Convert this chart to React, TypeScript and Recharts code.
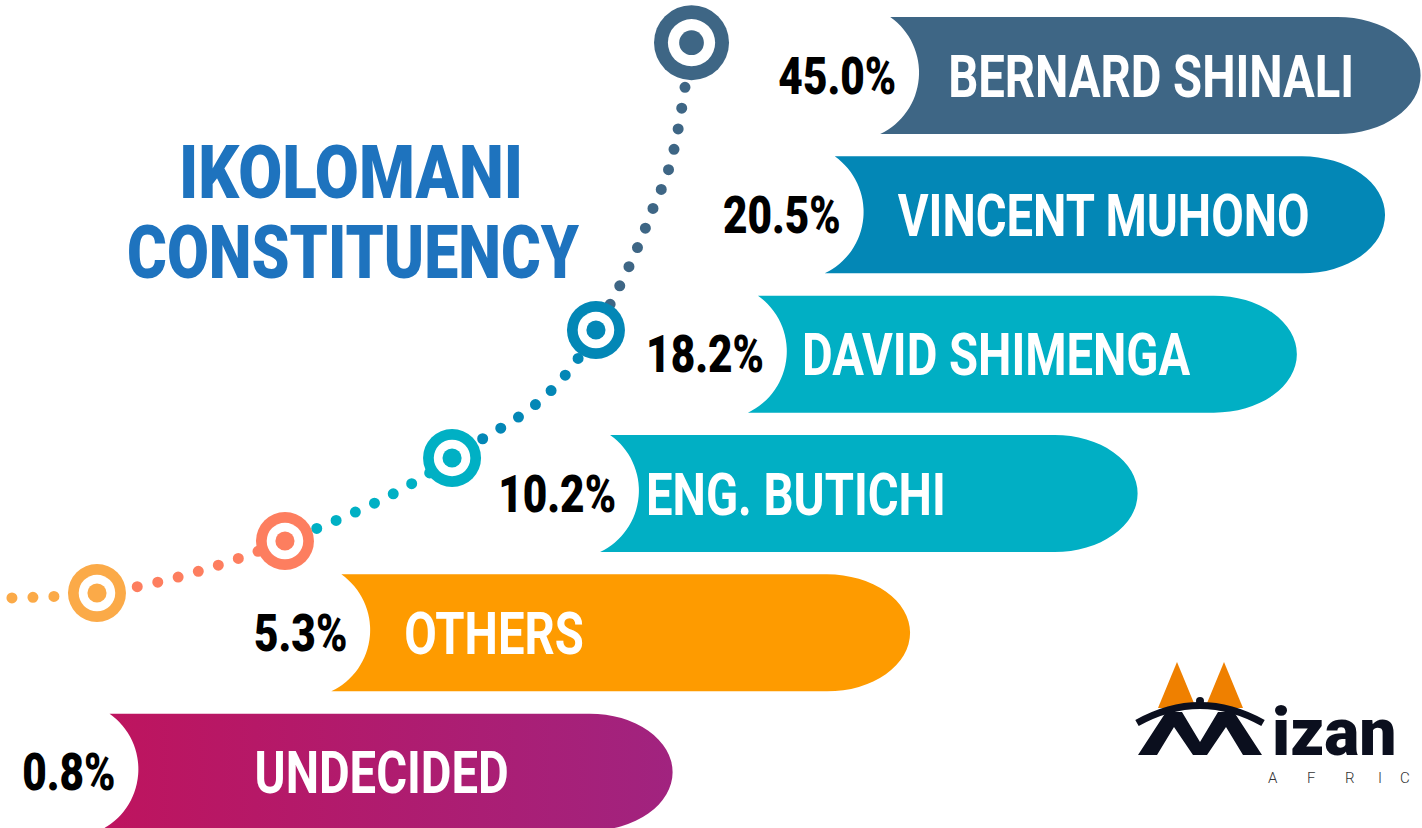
import { Bar, BarChart, Line, LineChart, XAxis, YAxis } from 'recharts';

// poll results, top to bottom
const candidates = [
  'BERNARD SHINALI',
  'VINCENT MUHONO',
  'DAVID SHIMENGA',
  'ENG. BUTICHI',
  'OTHERS',
  'UNDECIDED',
];
const shares = [45.0, 20.5, 18.2, 10.2, 5.3, 0.8];

// where each pill sits on the 0-100 track
const trackStart = [61.9, 58.0, 52.6, 42.2, 23.3, 7.0];
const trackEnd = [99.9, 97.4, 91.2, 80.0, 64.0, 47.3];

// the dotted trend curve (0-100 both ways, y up)
const curveX = [0.84, 6.82, 20.04, 31.79, 41.91, 45.71, 47.61, 48.63];
const curveY = [27.78, 28.38, 34.66, 44.69, 60.14, 73.91, 83.7, 94.84];
const markerAt = [1, 2, 3, 4, 7];

const barColors = ['#3e6685', '#0387b6', '#01afc4', '#01afc4', '#fe9b00', 'url(#undecidedGrad)'];
const nameInset = [68, 73, 54, 46, 73, 155];
const ringColors = ['#fbaa48', '#fd7e5f', '#00b0c4', '#0387b6', '#3e6685'];
const ringSizes = [29, 29, 29, 29, 37.5];

const W = 1422;
const H = 828;

const rows = candidates.map((name, i) => ({
  name,
  pct: shares[i],
  range: [trackStart[i], trackEnd[i]],
}));

const curve = curveX.map((x, i) => ({ x, y: curveY[i] }));

function Pill(props: any) {
  const { x, y, width, height, index } = props;
  const top = y;
  const bottom = y + height;
  const mid = y + height / 2;
  const rx = 83;
  const ry = height / 2;
  const right = x + width;
  const cut = 68;
  const d = [
    `M ${x + 10} ${top}`,
    `H ${right - rx}`,
    `A ${rx} ${ry} 0 0 1 ${right} ${mid}`,
    `A ${rx} ${ry} 0 0 1 ${right - rx} ${bottom}`,
    `H ${x}`,
    `A ${cut} ${cut} 0 0 0 ${x + 10} ${top}`,
    'Z',
  ].join(' ');
  return (
    <g>
      <defs>
        <linearGradient id="undecidedGrad" x1="0" y1="0" x2="1" y2="0">
          <stop offset="0%" stopColor="#be145e" />
          <stop offset="100%" stopColor="#a1237f" />
        </linearGradient>
      </defs>
      <path d={d} fill={barColors[index]} />
      <g transform={`translate(${x + 16} ${mid + 18}) scale(0.83 1)`}>
        <text
          x={0}
          y={0}
          textAnchor="end"
          fontFamily="Roboto, sans-serif"
          fontWeight={900}
          fontSize={51}
          fill="#000"
        >
          {shares[index].toFixed(1)}%
        </text>
      </g>
      <g transform={`translate(${x + nameInset[index]} ${mid + 21}) scale(0.8 1)`}>
        <text
          x={0}
          y={0}
          fontFamily="Roboto, sans-serif"
          fontWeight={700}
          fontSize={59}
          fill="#fff"
        >
          {candidates[index]}
        </text>
      </g>
    </g>
  );
}

function Ring(props: any) {
  const { cx, cy, index } = props;
  const m = markerAt.indexOf(index);
  if (m < 0) return <g key={`p-${index}`} />;
  const r = ringSizes[m];
  return (
    <g key={`p-${index}`}>
      <circle cx={cx} cy={cy} r={r} fill={ringColors[m]} />
      <circle cx={cx} cy={cy} r={r * 0.63} fill="#fff" />
      <circle cx={cx} cy={cy} r={r * 0.33} fill={ringColors[m]} />
    </g>
  );
}

function Logo() {
  const navy = '#0b0f1e';
  const orange = '#ef8000';
  const africX = [1268, 1307, 1345, 1378, 1400];
  return (
    <g>
      <polygon points="1177,662 1158,708 1196,708" fill={orange} />
      <polygon points="1224,662 1205,708 1243,708" fill={orange} />
      <path d="M 1137 723 Q 1200 688 1263 723" stroke={navy} strokeWidth={7} fill="none" />
      <circle cx={1200} cy={701} r={4} fill={navy} />
      <polygon
        points="1138,755 1166,712 1182,712 1200,742 1218,712 1234,712 1262,755 1243,755 1226,727 1207,755 1193,755 1174,727 1157,755"
        fill={navy}
      />
      <text x={1272} y={755} fontFamily="Roboto, sans-serif" fontWeight={900} fontSize={66} fill={navy}>
        izan
      </text>
      {'AFRIC'.split('').map((ch, i) => (
        <text
          key={ch + i}
          x={africX[i]}
          y={783}
          fontFamily="Roboto, sans-serif"
          fontWeight={300}
          fontSize={15}
          fill="#333"
        >
          {ch}
        </text>
      ))}
    </g>
  );
}

export default function App() {
  const x0 = curveX[0];
  const xMax = Math.max(...curveX);
  const frac = (v: number) => ((v - x0) / (xMax - x0)) * 100;
  const bounds = [0, ...markerAt.slice(0, 4).map((i) => frac(curveX[i])), 100];

  return (
    <div
      style={{
        position: 'fixed',
        left: 0,
        top: 0,
        width: W,
        height: H,
        overflow: 'hidden',
        background: '#fff',
      }}
    >
      <div style={{ position: 'absolute', left: 0, top: 0 }}>
        <BarChart
          width={W}
          height={850}
          data={rows}
          layout="vertical"
          margin={{ top: 6, right: 0, bottom: 8, left: 0 }}
        >
          <XAxis type="number" domain={[0, 100]} hide />
          <YAxis type="category" dataKey="name" hide />
          <Bar dataKey="range" barSize={117} shape={<Pill />} isAnimationActive={false} />
        </BarChart>
      </div>
      <div style={{ position: 'absolute', left: 0, top: 0 }}>
        <LineChart width={W} height={H} data={curve} margin={{ top: 0, right: 0, bottom: 0, left: 0 }}>
          <defs>
            <linearGradient id="dotGrad" x1="0" y1="0" x2="1" y2="0">
              {ringColors.map((c, i) => [
                <stop key={`a${i}`} offset={`${bounds[i]}%`} stopColor={c} />,
                <stop key={`b${i}`} offset={`${bounds[i + 1]}%`} stopColor={c} />,
              ])}
            </linearGradient>
          </defs>
          <XAxis type="number" dataKey="x" domain={[0, 100]} hide />
          <YAxis type="number" domain={[0, 100]} hide />
          <Line
            type="monotone"
            dataKey="y"
            stroke="url(#dotGrad)"
            strokeWidth={11}
            strokeDasharray="0 21"
            strokeLinecap="round"
            dot={(p: any) => <Ring {...p} />}
            activeDot={false}
            isAnimationActive={false}
          />
        </LineChart>
      </div>
      <svg
        width={W}
        height={H}
        style={{ position: 'absolute', left: 0, top: 0, pointerEvents: 'none' }}
      >
        <text
          x={179}
          y={198}
          textLength={344}
          lengthAdjust="spacingAndGlyphs"
          fontFamily="Roboto, sans-serif"
          fontWeight={900}
          fontSize={74}
          fill="#1e73be"
        >
          IKOLOMANI
        </text>
        <text
          x={127}
          y={278}
          textLength={452}
          lengthAdjust="spacingAndGlyphs"
          fontFamily="Roboto, sans-serif"
          fontWeight={900}
          fontSize={74}
          fill="#1e73be"
        >
          CONSTITUENCY
        </text>
        <Logo />
      </svg>
    </div>
  );
}
